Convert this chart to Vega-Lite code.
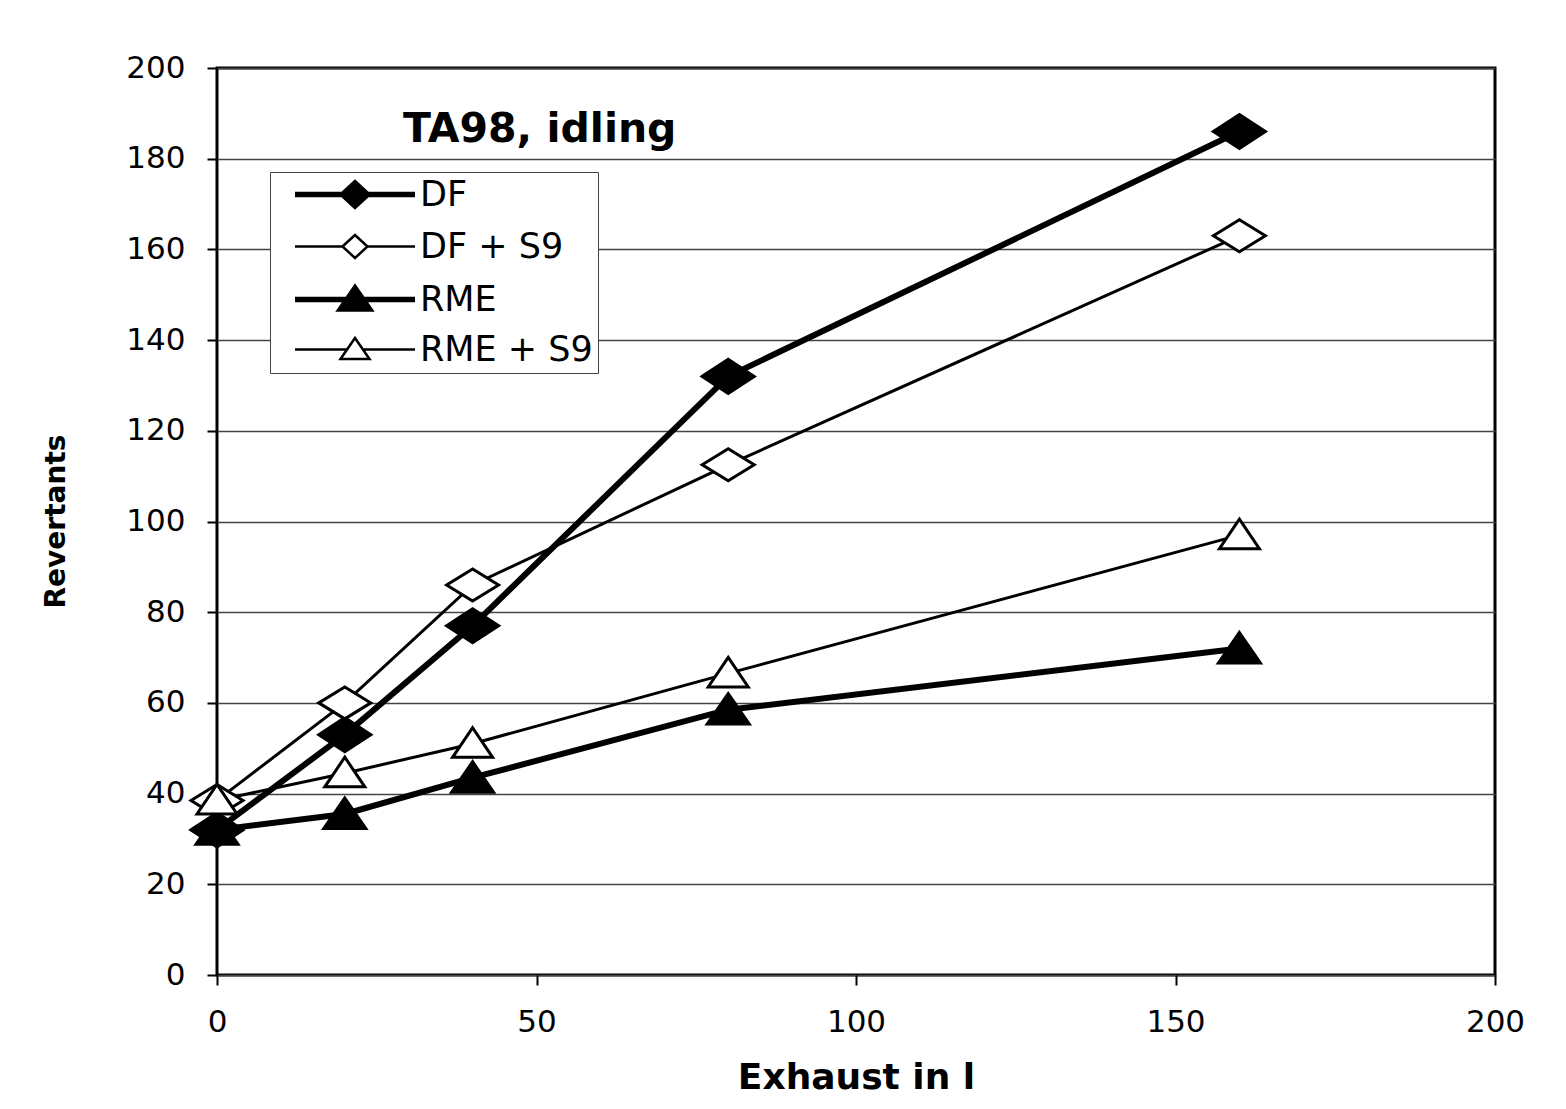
{
  "$schema": "https://vega.github.io/schema/vega-lite/v6.json",
  "width": 1278,
  "height": 907,
  "autosize": {"type": "none"},
  "padding": {"left": 217, "top": 68, "right": 71, "bottom": 134},
  "background": "white",
  "config": {
    "view": {"stroke": "black", "strokeWidth": 3},
    "font": "DejaVu Sans",
    "axis": {
      "domain": false,
      "tickColor": "black",
      "tickWidth": 2,
      "tickSize": 10,
      "labelFont": "DejaVu Sans",
      "labelFontSize": 31,
      "labelColor": "black",
      "labelFlush": false,
      "titleFont": "DejaVu Sans",
      "titleFontWeight": "bold",
      "titleColor": "black"
    }
  },
  "title": {
    "text": "TA98, idling",
    "anchor": "start",
    "orient": "top",
    "frame": "group",
    "dx": 186,
    "offset": -131,
    "baseline": "alphabetic",
    "fontSize": 41,
    "fontWeight": "bold",
    "font": "DejaVu Sans",
    "color": "black"
  },
  "data": {
    "values": [
      {"series": "DF", "x": 0, "y": 32},
      {"series": "DF", "x": 20, "y": 53},
      {"series": "DF", "x": 40, "y": 77},
      {"series": "DF", "x": 80, "y": 132},
      {"series": "DF", "x": 160, "y": 186},
      {"series": "DF + S9", "x": 0, "y": 38.5},
      {"series": "DF + S9", "x": 20, "y": 60},
      {"series": "DF + S9", "x": 40, "y": 86},
      {"series": "DF + S9", "x": 80, "y": 112.5},
      {"series": "DF + S9", "x": 160, "y": 163},
      {"series": "RME", "x": 0, "y": 32},
      {"series": "RME", "x": 20, "y": 35.5},
      {"series": "RME", "x": 40, "y": 43.5},
      {"series": "RME", "x": 80, "y": 58.5},
      {"series": "RME", "x": 160, "y": 72},
      {"series": "RME + S9", "x": 0, "y": 38.5},
      {"series": "RME + S9", "x": 20, "y": 44.5},
      {"series": "RME + S9", "x": 40, "y": 51},
      {"series": "RME + S9", "x": 80, "y": 66.5},
      {"series": "RME + S9", "x": 160, "y": 97}
    ]
  },
  "encoding": {
    "x": {
      "field": "x",
      "type": "quantitative",
      "scale": {"domain": [0, 200], "nice": false},
      "axis": {
        "values": [0, 50, 100, 150, 200],
        "grid": false,
        "title": "Exhaust in l",
        "titleFontSize": 36,
        "titleBaseline": "alphabetic",
        "titleY": 113,
        "labelPadding": 22,
        "labelBaseline": "top"
      }
    },
    "y": {
      "field": "y",
      "type": "quantitative",
      "scale": {"domain": [0, 200], "nice": false},
      "axis": {
        "values": [0, 20, 40, 60, 80, 100, 120, 140, 160, 180, 200],
        "grid": true,
        "gridColor": "#444444",
        "gridWidth": 1.5,
        "title": "Revertants",
        "titleFontSize": 28,
        "titleBaseline": "middle",
        "titleX": -161,
        "titleY": 453,
        "labelPadding": 22
      }
    }
  },
  "layer": [
    {
      "mark": {"type": "line", "color": "black", "opacity": 1},
      "encoding": {
        "detail": {"field": "series", "type": "nominal"},
        "strokeWidth": {
          "field": "series",
          "type": "nominal",
          "scale": {"type": "ordinal", "domain": ["DF", "DF + S9", "RME", "RME + S9"], "range": [6, 3, 6, 3]},
          "legend": null
        }
      }
    },
    {
      "mark": {"type": "point", "filled": true, "stroke": "black", "strokeWidth": 3, "opacity": 1, "size": 1600},
      "encoding": {
        "shape": {
          "field": "series",
          "type": "nominal",
          "scale": {
            "domain": ["DF", "DF + S9", "RME", "RME + S9"],
            "range": [
              "M-1.3,0L0,-0.85L1.3,0L0,0.85Z",
              "M-1.3,0L0,-0.8L1.3,0L0,0.8Z",
              "M0,-0.8L1.05,0.72L-1.05,0.72Z",
              "M0,-0.8L1,0.68L-1,0.68Z"
            ]
          },
          "legend": null
        },
        "fill": {
          "field": "series",
          "type": "nominal",
          "scale": {"domain": ["DF", "DF + S9", "RME", "RME + S9"], "range": ["black", "white", "black", "white"]},
          "legend": null
        }
      }
    },
    {
      "transform": [{"filter": "false"}],
      "mark": {"type": "point", "filled": true, "stroke": "black", "opacity": 1, "size": 400},
      "encoding": {
        "shape": {
          "field": "series",
          "type": "nominal",
          "scale": {
            "domain": ["DF", "DF + S9", "RME", "RME + S9"],
            "range": [
              "M0.25,0H12.25M5.0,0L6.25,-1.15L7.5,0L6.25,1.15Z",
              "M0.25,0H5.0M7.5,0H12.25M5.0,0L6.25,-1.15L7.5,0L6.25,1.15Z",
              "M0.25,0H12.25M4.8,0.95L6.25,-1.15L7.7,0.95Z",
              "M0.25,0H5.45M7.05,0H12.25M4.8,0.95L6.25,-1.15L7.7,0.95Z"
            ]
          },
          "legend": {
            "title": null, "orient": "none", "legendX": 53, "legendY": 104,
            "padding": 5, "symbolSize": 400, "labelOffset": 110, "labelLimit": 400,
            "labelFont": "DejaVu Sans", "labelFontSize": 35, "labelColor": "black",
            "rowPadding": 12, "fillColor": "white", "strokeColor": "#444444",
            "symbolOpacity": 1
          }
        },
        "fill": {
          "field": "series",
          "type": "nominal",
          "scale": {"domain": ["DF", "DF + S9", "RME", "RME + S9"], "range": ["black", "white", "black", "white"]},
          "legend": {
            "title": null, "orient": "none", "legendX": 53, "legendY": 104,
            "padding": 5, "symbolSize": 400, "labelOffset": 110, "labelLimit": 400,
            "labelFont": "DejaVu Sans", "labelFontSize": 35, "labelColor": "black",
            "rowPadding": 12, "fillColor": "white", "strokeColor": "#444444",
            "symbolOpacity": 1
          }
        },
        "strokeWidth": {
          "field": "series",
          "type": "nominal",
          "scale": {"type": "ordinal", "domain": ["DF", "DF + S9", "RME", "RME + S9"], "range": [5.5, 2.5, 5.5, 2.5]},
          "legend": {
            "title": null, "orient": "none", "legendX": 53, "legendY": 104,
            "padding": 5, "symbolSize": 400, "labelOffset": 110, "labelLimit": 400,
            "labelFont": "DejaVu Sans", "labelFontSize": 35, "labelColor": "black",
            "rowPadding": 12, "fillColor": "white", "strokeColor": "#444444",
            "symbolOpacity": 1
          }
        }
      }
    }
  ],
  "resolve": {
    "scale": {"shape": "independent", "fill": "independent", "strokeWidth": "independent"},
    "legend": {"shape": "independent", "fill": "independent", "strokeWidth": "independent"}
  }
}
